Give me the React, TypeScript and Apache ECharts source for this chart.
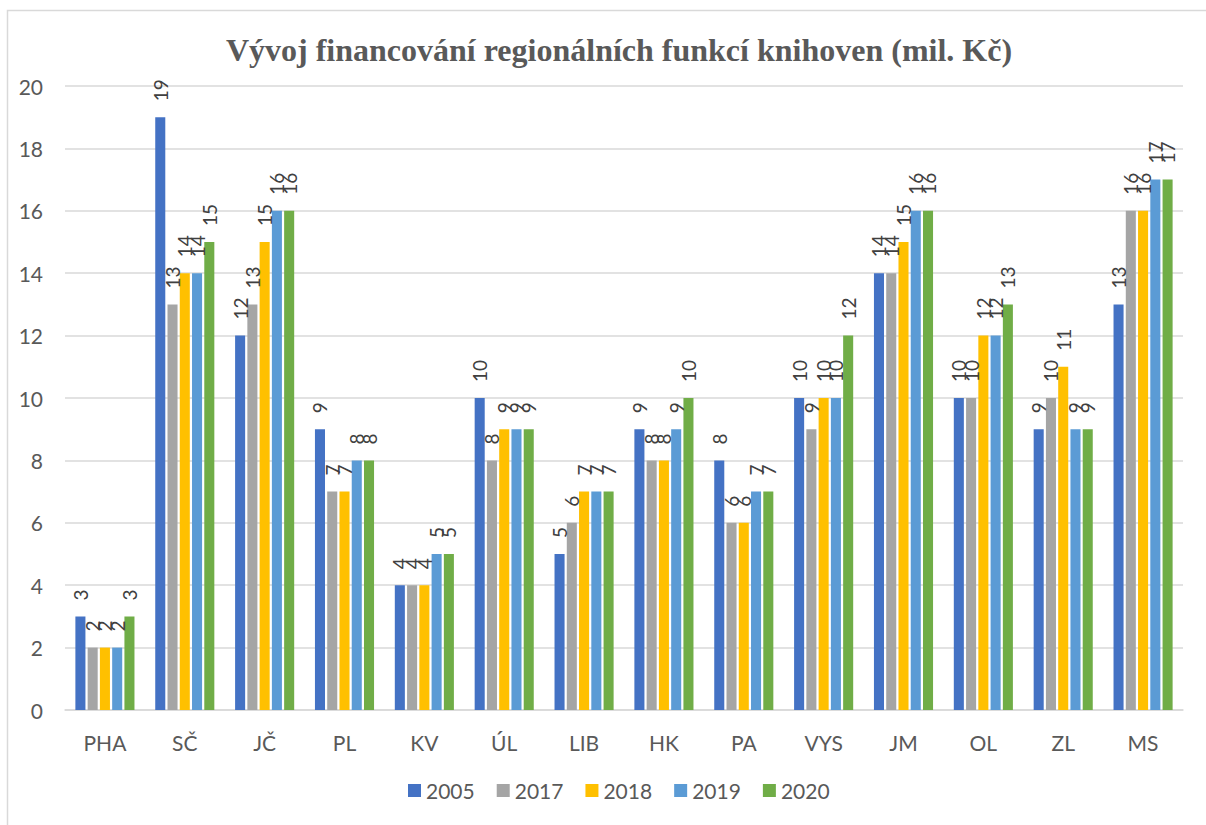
import React, { useEffect, useRef } from "react";
import * as echarts from "echarts";

const categories = ["PHA", "SČ", "JČ", "PL", "KV", "ÚL", "LIB", "HK", "PA", "VYS", "JM", "OL", "ZL", "MS"];
const years = ["2005", "2017", "2018", "2019", "2020"];
const v2005 = [3, 19, 12, 9, 4, 10, 5, 9, 8, 10, 14, 10, 9, 13];
const v2017 = [2, 13, 13, 7, 4, 8, 6, 8, 6, 9, 14, 10, 10, 16];
const v2018 = [2, 14, 15, 7, 4, 9, 7, 8, 6, 10, 15, 12, 11, 16];
const v2019 = [2, 14, 16, 8, 5, 9, 7, 9, 7, 10, 16, 12, 9, 17];
const v2020 = [3, 15, 16, 8, 5, 9, 7, 10, 7, 12, 16, 13, 9, 17];
const seriesValues = [v2005, v2017, v2018, v2019, v2020];
const colors = ["#4472C4", "#A5A5A5", "#FFC000", "#5B9BD5", "#70AD47"];
const yTicks = [0, 2, 4, 6, 8, 10, 12, 14, 16, 18, 20];

export default function App() {
  const ref = useRef<HTMLDivElement>(null);
  useEffect(() => {
    const chart = echarts.init(ref.current!, null, { renderer: "svg" });
    const font = "Lato, 'Open Sans', sans-serif";
    chart.setOption({
      animation: false,
      backgroundColor: "#ffffff",
      title: {
        text: "Vývoj financování regionálních funkcí knihoven (mil. Kč)",
        left: 614,
        top: 29,
        textAlign: "center",
        textStyle: {
          fontFamily: "'Liberation Serif', 'Times New Roman', serif",
          fontWeight: "bold",
          fontSize: 32,
          color: "#595959",
        },
      },
      graphic: [
        {
          type: "rect",
          shape: { x: 7.5, y: 10.5, width: 1210, height: 830 },
          style: { fill: "none", stroke: "#d9d9d9", lineWidth: 1.5 },
          silent: true,
        },
      ],
      legend: {
        bottom: 19,
        left: 403,
        itemWidth: 13,
        itemHeight: 13,
        itemGap: 22,
        icon: "rect",
        textStyle: { fontFamily: font, fontSize: 21, color: "#595959" },
        data: years,
      },
      grid: { left: 65, right: 23, top: 86, bottom: 115, containLabel: false },
      xAxis: {
        type: "category",
        data: categories,
        axisLine: { lineStyle: { color: "#d9d9d9", width: 1.5 } },
        axisTick: { show: false },
        axisLabel: { fontFamily: font, fontSize: 21, color: "#595959", margin: 22 },
      },
      yAxis: {
        type: "value",
        min: yTicks[0],
        max: yTicks[yTicks.length - 1],
        interval: 2,
        axisLine: { show: false },
        axisTick: { show: false },
        splitLine: { lineStyle: { color: "#d9d9d9", width: 1.5 } },
        axisLabel: { fontFamily: font, fontSize: 21, color: "#595959", margin: 22 },
      },
      series: years.map((y, i) => ({
        name: y,
        type: "bar",
        data: seriesValues[i],
        barGap: "22%",
        barCategoryGap: "26%",
        itemStyle: { color: colors[i] },
        label: {
          show: true,
          position: "top",
          rotate: 90,
          align: "left",
          verticalAlign: "middle",
          distance: 16,
          fontFamily: font,
          fontSize: 19,
          color: "#404040",
        },
      })),
    });
    return () => chart.dispose();
  }, []);
  return (
    <div
      ref={ref}
      style={{ position: "fixed", left: 0, top: 0, width: 1206, height: 825 }}
    />
  );
}
